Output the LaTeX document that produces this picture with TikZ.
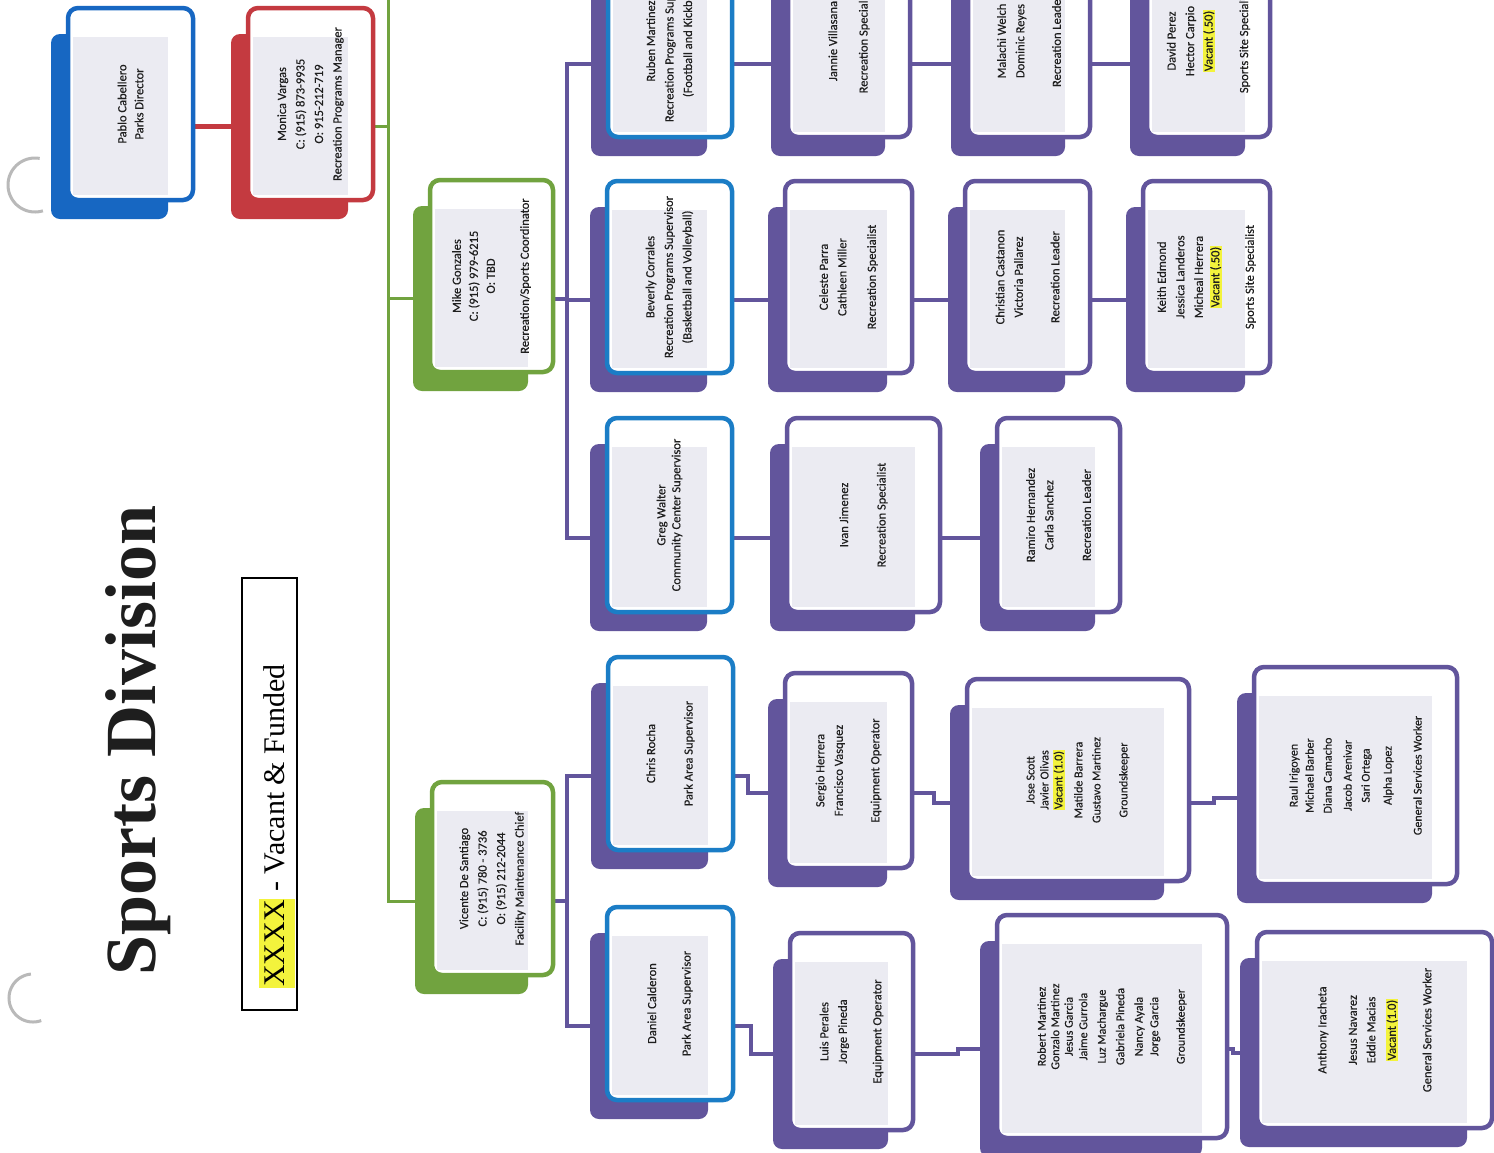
\documentclass[tikz,border=0pt]{standalone}
\usepackage{fontspec}
\setmainfont{Carlito}
\newfontfamily\boxfont{Carlito}[FakeBold=0.35]
\newfontfamily\serifttl{Liberation Serif}
\usetikzlibrary{calc}
\definecolor{purp}{HTML}{62559C}
\definecolor{bluep}{HTML}{1767C2}
\definecolor{blues}{HTML}{1B7DC6}
\definecolor{redb}{HTML}{C43A40}
\definecolor{grn}{HTML}{71A33F}
\definecolor{innerg}{HTML}{EBEBF2}
\definecolor{hly}{HTML}{F3F33C}
\definecolor{txt}{HTML}{1E1E1E}
\pgfdeclarelayer{back}
\pgfdeclarelayer{lines}
\pgfsetlayers{back,lines,main}
\newcommand\hlt[1]{{\setlength{\fboxsep}{0.6pt}\colorbox{hly}{#1}}}
\tikzset{
  lbl/.style={rotate=90, align=center, inner sep=0, text=txt, font=\boxfont\fontsize{12.5}{18.5}\selectfont},
  pl/.style={draw=purp, line width=4},
  gl/.style={draw=grn, line width=3},
  rl/.style={draw=redb, line width=5},
}
\newcommand\orgbox[9]{%
  \node[inner sep=0, outer sep=0, minimum width={#6-(#4)}, minimum height={#7-(#5)}] (#1) at ({(#4+#6)/2},{(#5+#7)/2}) {};
  \node[inner sep=0, outer sep=0, minimum width={#6-(#4)-8}, minimum height={#7-(#5)-7}] (#1s) at ({(#4+#6)/2-21},{(#5+#7)/2+22.5}) {};
  \fill[#3, rounded corners=9] (#1s.south west) rectangle (#1s.north east);
  \fill[white, rounded corners=10] (#1.south west) rectangle (#1.north east);
  \fill[innerg] ($(#1.west |- #1s.north)+(5,3)$) rectangle ($(#1s.east |- #1.south)+(0,-5)$);
  \draw[#2, line width=4.5, rounded corners=10] (#1.south west) rectangle (#1.north east);
  \node[lbl, #8] (#1t) at (#1.center) {#9};
}
\begin{document}
\begin{tikzpicture}[x=1pt,y=-1pt]
\useasboundingbox (0,0) rectangle (1494,1152);
\begin{pgfonlayer}{back}
  \fill[white] (0,0) rectangle (1494,1152);
  \draw[gray!55, line width=3] plot[domain=73:280, samples=40] ({35+27*cos(\x)},{185+27*sin(\x)});
  \draw[gray!55, line width=3] plot[domain=70:265, samples=40] ({33+24*cos(\x)},{998+24*sin(\x)});
\end{pgfonlayer}
\clip (0,0) rectangle (1494,1152);

% title and legend
\node[rotate=90, anchor=base, font=\serifttl\bfseries\fontsize{72}{80}\selectfont, text=txt] (title) at (155,740) {Sports Division};
\node[draw=black, line width=2, inner sep=0, minimum width=55, minimum height=432] (legendbox) at (269.5,794) {};
\node[rotate=90, anchor=base, font=\serifttl\fontsize{30}{34}\selectfont, text=black] (legendtext) at (284,826) {{\setlength{\fboxsep}{1pt}\colorbox{hly}{\strut XXXX}} - Vacant \& Funded};

% top management
\orgbox{pablo}{bluep}{bluep}{68}{8}{193}{200}{font=\boxfont\fontsize{12.5}{17}\selectfont}{Pablo Cabellero\\Parks Director}
\orgbox{monica}{redb}{redb}{248}{8}{373}{200}{}{Monica Vargas\\C: (915) 873-9935\\O: 915-212-719\\Recreation Programs Manager}
\orgbox{mike}{grn}{grn}{430}{180}{553}{372}{font=\boxfont\fontsize{12.5}{17}\selectfont}{Mike Gonzales\\C: (915) 979-6215\\O: TBD\\[17pt]Recreation/Sports Coordinator}
\orgbox{vicente}{grn}{grn}{432}{782}{553}{975}{}{Vicente De Santiago\\C: (915) 780 - 3736\\O: (915) 212-2044\\Facility Maintenance Chief}

% row 1
\orgbox{ruben}{blues}{purp}{608}{-55}{732}{137}{}{Ruben Martinez\\Recreation Programs Supervisor\\(Football and Kickball)}
\orgbox{jannie}{purp}{purp}{788}{-55}{910}{137}{}{Jannie Villasana\\[12pt]Recreation Specialist}
\orgbox{malachi}{purp}{purp}{968}{-55}{1090}{137}{}{Malachi Welch\\Dominic Reyes\\[18pt]Recreation Leader}
\orgbox{david}{purp}{purp}{1147}{-55}{1270}{137}{}{David Perez\\Hector Carpio\\\hlt{Vacant (.50)}\\[17pt]Sports Site Specialist}

% row 2
\orgbox{beverly}{blues}{purp}{607}{181}{732}{373}{}{Beverly Corrales\\Recreation Programs Supervisor\\(Basketball and Volleyball)}
\orgbox{celeste}{purp}{purp}{785}{181}{912}{373}{}{Celeste Parra\\Cathleen Miller\\[11pt]Recreation Specialist}
\orgbox{christian}{purp}{purp}{965}{181}{1090}{373}{}{Christian Castanon\\Victoria Pallarez\\[18pt]Recreation Leader}
\orgbox{keith}{purp}{purp}{1143}{181}{1270}{373}{}{Keith Edmond\\Jessica Landeros\\Micheal Herrera\\[-2pt]\hlt{Vacant (.50)}\\[16pt]Sports Site Specialist}

% row 3
\orgbox{greg}{blues}{purp}{607}{418}{732}{612}{font=\boxfont\fontsize{12.5}{15}\selectfont}{Greg Walter\\Community Center Supervisor}
\orgbox{ivan}{purp}{purp}{787}{418}{940}{612}{}{Ivan Jimenez\\[19pt]Recreation Specialist}
\orgbox{ramiro}{purp}{purp}{997}{418}{1120}{612}{}{Ramiro Hernandez\\Carla Sanchez\\[19pt]Recreation Leader}

% row 4
\orgbox{chris}{blues}{purp}{608}{657}{733}{850}{}{Chris Rocha\\[19pt]Park Area Supervisor}
\orgbox{sergio}{purp}{purp}{785}{673}{912}{868}{}{Sergio Herrera\\Francisco Vasquez\\[18pt]Equipment Operator}
\orgbox{jose}{purp}{purp}{967}{679}{1189}{881}{font=\boxfont\fontsize{12}{14}\selectfont}{Jose Scott\\Javier Olivas\\\hlt{Vacant (1.0)}\\[6pt]Matilde Barrera\\[4pt]Gustavo Martinez\\[13pt]Groundskeeper}
\orgbox{raul}{purp}{purp}{1254}{667}{1457}{884}{font=\boxfont\fontsize{12}{16}\selectfont}{Raul Irigoyen\\Michael Barber\\[2pt]Diana Camacho\\[4pt]Jacob Arenivar\\[2pt]Sari Ortega\\[6pt]Alpha Lopez\\[14pt]General Services Worker}

% row 5
\orgbox{daniel}{blues}{purp}{607}{907}{733}{1100}{}{Daniel Calderon\\[16pt]Park Area Supervisor}
\orgbox{luis}{purp}{purp}{790}{933}{913}{1130}{}{Luis Perales\\Jorge Pineda\\[16pt]Equipment Operator}
\orgbox{robert}{purp}{purp}{997}{915}{1227}{1138}{font=\boxfont\fontsize{12}{13.5}\selectfont}{Robert Martinez\\Gonzalo Martinez\\Jesus Garcia\\[1pt]Jaime Gurrola\\[5pt]Luz Machargue\\[5pt]Gabriela Pineda\\[5pt]Nancy Ayala\\[2pt]Jorge Garcia\\[13pt]Groundskeeper}
\orgbox{anthony}{purp}{purp}{1257}{932}{1492}{1128}{}{Anthony Iracheta\\[12pt]Jesus Navarez\\Eddie Macias\\[2pt]\hlt{Vacant (1.0)}\\[17pt]General Services Worker}

\coordinate (gtop) at (388,-10);
\coordinate (busA) at (567,0);

\begin{pgfonlayer}{lines}
  \draw[rl] (pablo.east |- pablos.center) -- (monicas.west);
  \draw[gl] (monica.east |- monicas.center) -- (gtop |- monicas.center);
  \draw[gl] (gtop) |- (vicentes.west);
  \draw[gl] (gtop |- mikes.center) -- (mikes.west);
  % Mike's branch
  \draw[pl] (mike.east |- mikes.center) -- (busA |- mikes.center);
  \draw[pl] (rubens.west) -| (busA |- gregs.west) -- (gregs.west);
  \draw[pl] (busA |- beverlys.west) -- (beverlys.west);
  \draw[pl] (ruben.east |- rubens.center) -- (jannies.west);
  \draw[pl] (jannie.east |- jannies.center) -- (malachis.west);
  \draw[pl] (malachi.east |- malachis.center) -- (davids.west);
  \draw[pl] (beverly.east |- beverlys.center) -- (celestes.west);
  \draw[pl] (celeste.east |- celestes.center) -- (christians.west);
  \draw[pl] (christian.east |- christians.center) -- (keiths.west);
  \draw[pl] (greg.east |- gregs.center) -- (ivans.west);
  \draw[pl] (ivan.east |- ivans.center) -- (ramiros.west);
  % Vicente's branch
  \draw[pl] (vicente.east |- vicentes.center) -- (busA |- vicentes.center);
  \draw[pl] (chriss.west) -| (busA |- daniels.west) -- (daniels.west);
  \draw[pl] (chris.east |- chriss.center) -- ++(15,0) |- (sergios.west);
  \draw[pl] (sergio.east |- sergios.center) -- ++(22,0) |- (joses.west);
  \draw[pl] (jose.east |- joses.center) -- ++(25,0) |- (rauls.west);
  \draw[pl] (daniel.east |- daniels.center) -- ++(18,0) |- (luiss.west);
  \draw[pl] (luis.east |- luiss.center) -- ++(45,0) |- (roberts.west);
  \draw[pl] (robert.east |- roberts.center) -- ++(6,0) |- (anthonys.west);
\end{pgfonlayer}
\end{tikzpicture}
\end{document}
